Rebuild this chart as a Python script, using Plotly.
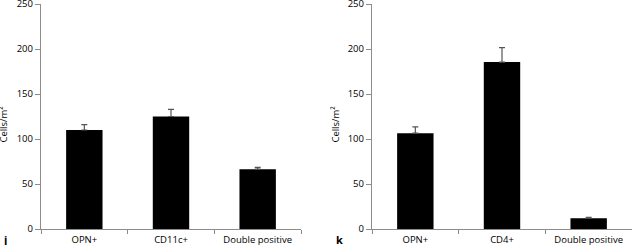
import plotly.graph_objects as go

cats_j = ["OPN+", "CD11c+", "Double positive"]
vals_j = [110, 125, 66.5]
err_j = [6, 8, 2]

cats_k = ["OPN+", "CD4+", "Double positive"]
vals_k = [106.5, 185.5, 12]
err_k = [7, 16, 1]

y_ticks = [0, 50, 100, 150, 200, 250]
panel_letters = ["j", "k"]
y_title = "Cells/m\u00b2"

W, H = 632, 245
FONT = "Open Sans"
AX = "#8c8c8c"

fig = go.Figure()

def add_bar(cats, vals, errs, xa, ya):
    fig.add_trace(go.Bar(
        x=cats, y=vals, xaxis=xa, yaxis=ya,
        marker=dict(color="black", line=dict(width=0)),
        width=0.42,
        error_y=dict(type="data", array=errs, symmetric=False,
                     arrayminus=[0] * len(errs),
                     color="#555555", thickness=1.2, width=3),
        showlegend=False, hoverinfo="skip",
    ))

add_bar(cats_j, vals_j, err_j, "x", "y")
add_bar(cats_k, vals_k, err_k, "x2", "y2")

xdom1 = [41 / W, 301 / W]
xdom2 = [372 / W, 632 / W]

xcommon = dict(
    type="category", tickson="boundaries", ticks="outside", ticklen=4,
    tickcolor=AX, tickwidth=1, showline=True, linecolor=AX, linewidth=1.3,
    showgrid=False, zeroline=False, range=[-0.5, 2.5],
    tickfont=dict(family=FONT, size=9.5, color="black"), automargin=False,
    ticklabeloverflow="allow", ticklabelstandoff=1,
)
ycommon = dict(
    range=[0, 250], tickvals=y_ticks, ticks="outside", ticklen=5,
    tickcolor=AX, tickwidth=1, showline=True, linecolor=AX, linewidth=1.3,
    showgrid=False, zeroline=False,
    tickfont=dict(family=FONT, size=9.5, color="black"), automargin=False,
    ticklabeloverflow="allow",
)

fig.update_layout(
    width=W, height=H,
    margin=dict(l=0, r=0, t=4, b=16),
    plot_bgcolor="white", paper_bgcolor="white",
    xaxis=dict(domain=xdom1, anchor="y", **xcommon),
    yaxis=dict(domain=[0, 1], anchor="x", **ycommon),
    xaxis2=dict(domain=xdom2, anchor="y2", **xcommon),
    yaxis2=dict(domain=[0, 1], anchor="x2", **ycommon),
)

# Y titles
for xpx in [4, 336]:
    fig.add_annotation(
        x=xpx / W, y=116, xref="paper", yref="y", text=y_title,
        textangle=-90, showarrow=False,
        font=dict(family=FONT, size=9.5, color="black"),
        xanchor="center", yanchor="middle",
    )

# Panel letters
for letter, xpx in zip(panel_letters, [5, 339]):
    fig.add_annotation(
        x=xpx / W, y=-10 / 225, xref="paper", yref="paper", text="<b>%s</b>" % letter,
        showarrow=False, font=dict(family=FONT, size=11, color="black"),
        xanchor="center", yanchor="middle",
    )

fig.write_html(
    "out.html",
    config={"displayModeBar": False},
    post_script="document.body.style.margin='0';document.body.style.overflow='hidden';",
)
